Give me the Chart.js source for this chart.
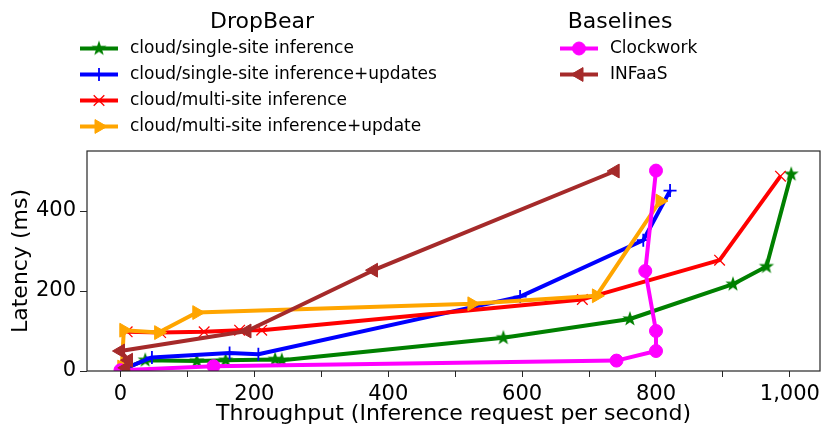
<!DOCTYPE html>
<html>
<head>
<meta charset="utf-8">
<script src="https://cdn.jsdelivr.net/npm/chart.js@4"></script>
<style>
  html,body{margin:0;padding:0;background:#fff;}
  #wrap{position:relative;width:821px;height:427px;}
</style>
</head>
<body>
<div id="wrap"><canvas id="chart" width="821" height="427"></canvas></div>
<script>
// DATA
const singleX  = [5, 37, 114, 157, 231, 241, 572, 761, 915, 965, 1002];
const singleY  = [5, 27, 25, 27, 29, 27, 83, 130, 217, 261, 492];
const singleUpX = [5, 47, 163, 206, 597, 781, 821];
const singleUpY = [5, 34, 45, 42, 186, 327, 451];
const multiX   = [10, 60, 125, 178, 211, 690, 895, 986];
const multiY   = [98, 96, 98, 102, 102, 179, 277, 487];
const multiUpX = [2, 5, 57, 114, 525, 711, 806];
const multiUpY = [10, 102, 96, 146, 168, 188, 425];
const clockX   = [0, 139, 741, 800, 800, 784, 800];
const clockY   = [2, 12, 26, 50, 100, 250, 501];
const infaasX  = [8, 12, 0, 189, 378, 739];
const infaasY  = [8, 27, 50, 100, 252, 500];

const xTicks = [0, 100, 200, 300, 400, 500, 600, 700, 800, 900, 1000];
const yTicks = [0, 200, 400];

Chart.defaults.font.family = "'DejaVu Sans', sans-serif";
Chart.defaults.color = "#000";

// filled star like matplotlib '*'
function makeStar(color, r){
    const c = document.createElement("canvas");
    const s = Math.ceil(r*2+2);
    c.width = s; c.height = s;
    const g = c.getContext("2d");
    g.beginPath();
    for(let i=0;i<10;i++){
        const rad = (i%2===0) ? r : r*0.4;
        const a = -Math.PI/2 + i*Math.PI/5;
        const px = s/2 + Math.cos(a)*rad, py = s/2 + Math.sin(a)*rad;
        if(i===0) g.moveTo(px,py); else g.lineTo(px,py);
    }
    g.closePath();
    g.fillStyle = color;
    g.fill();
    return c;
}
const starImg = makeStar("#008000", 8);

function pts(xs, ys){ return xs.map((x,i)=>({x:x, y:ys[i]})); }

const series = [
    {label:"cloud/single-site inference", color:"#008000", data:pts(singleX,singleY), style:starImg, radius:8, rot:0, pbw:1},
    {label:"cloud/single-site inference+updates", color:"#0000ff", data:pts(singleUpX,singleUpY), style:"cross", radius:6.5, rot:0, pbw:1.8},
    {label:"cloud/multi-site inference", color:"#ff0000", data:pts(multiX,multiY), style:"crossRot", radius:7.5, rot:0, pbw:1.3},
    {label:"cloud/multi-site inference+update", color:"#ffa500", data:pts(multiUpX,multiUpY), style:"triangle", radius:8, rot:90, pbw:1},
    {label:"Clockwork", color:"#ff00ff", data:pts(clockX,clockY), style:"circle", radius:6.5, rot:0, pbw:1},
    {label:"INFaaS", color:"#a52a2a", data:pts(infaasX,infaasY), style:"triangle", radius:8, rot:-90, pbw:1}
];

const datasets = series.map((s,i)=>({
    label: s.label,
    data: s.data,
    borderColor: s.color,
    backgroundColor: s.color,
    borderWidth: 4,
    borderJoinStyle: "round",
    tension: 0,
    pointStyle: s.style,
    pointRadius: s.radius,
    pointRotation: s.rot,
    pointBorderWidth: s.pbw,
    pointBorderColor: s.color,
    pointBackgroundColor: s.color,
    order: series.length - i
}));

// two-group legend drawn on top of the chart
const groupLegend = {
    id: "groupLegend",
    afterDraw(chart){
        const ctx = chart.ctx;
        ctx.save();
        ctx.fillStyle = "#000";
        ctx.textBaseline = "middle";
        ctx.textAlign = "center";
        ctx.font = "22px 'DejaVu Sans'";
        ctx.fillText("DropBear", 262, 22);
        ctx.fillText("Baselines", 620, 22);
        const cols = [{x0:80, items:[0,1,2,3]}, {x0:560, items:[4,5]}];
        cols.forEach(col=>{
            col.items.forEach((idx,row)=>{
                const s = series[idx];
                const y = 48.5 + row*26;
                ctx.strokeStyle = s.color;
                ctx.lineWidth = 4;
                ctx.beginPath();
                ctx.moveTo(col.x0, y);
                ctx.lineTo(col.x0+38, y);
                ctx.stroke();
                ctx.fillStyle = s.color;
                ctx.lineWidth = s.pbw;
                Chart.helpers.drawPoint(ctx, {pointStyle:s.style, radius:s.radius, rotation:s.rot, borderWidth:s.pbw}, col.x0+19, y);
                ctx.fillStyle = "#000";
                ctx.textAlign = "left";
                ctx.font = "17px 'DejaVu Sans'";
                ctx.fillText(s.label, col.x0+50, y);
            });
        });
        // plot frame
        const a = chart.chartArea;
        ctx.strokeStyle = "#262626";
        ctx.lineWidth = 1.2;
        ctx.strokeRect(a.left, a.top, a.right-a.left, a.bottom-a.top);
        ctx.restore();
    }
};

new Chart(document.getElementById("chart"), {
    type: "line",
    data: {datasets: datasets},
    plugins: [groupLegend],
    options: {
        responsive: false,
        animation: false,
        devicePixelRatio: 1,
        layout: {autoPadding: false, padding: {top: 151, right: 1, left: 0, bottom: 0}},
        plugins: {legend: {display: false}, tooltip: {enabled: false}},
        scales: {
            x: {
                type: "linear",
                min: -50, max: 1045,
                afterBuildTicks: s => { s.ticks = xTicks.map(v=>({value:v})); },
                afterFit: s => { s.height = 56; s.paddingRight = 0; s.paddingLeft = 0; },
                grid: {drawOnChartArea: false, tickLength: 6, tickColor: "#262626", color: "#262626"},
                border: {display: false},
                ticks: {
                    font: {size: 21}, padding: 5, maxRotation: 0, autoSkip: false,
                    callback: v => (v % 200 === 0) ? v.toLocaleString("en-US") : ""
                },
                title: {display: true, text: "Throughput (Inference request per second)", font: {size: 22}, padding: {top: 0, bottom: 0}}
            },
            y: {
                type: "linear",
                min: 0, max: 550,
                afterBuildTicks: s => { s.ticks = yTicks.map(v=>({value:v})); },
                afterFit: s => { s.width = 87; s.paddingTop = 0; s.paddingBottom = 0; },
                grid: {drawOnChartArea: false, tickLength: 7, tickColor: "#262626", color: "#262626"},
                border: {display: false},
                ticks: {font: {size: 21}, padding: 4},
                title: {display: true, text: "Latency (ms)", font: {size: 22}, padding: {top: 8, bottom: 0}}
            }
        }
    }
});
</script>
</body>
</html>
